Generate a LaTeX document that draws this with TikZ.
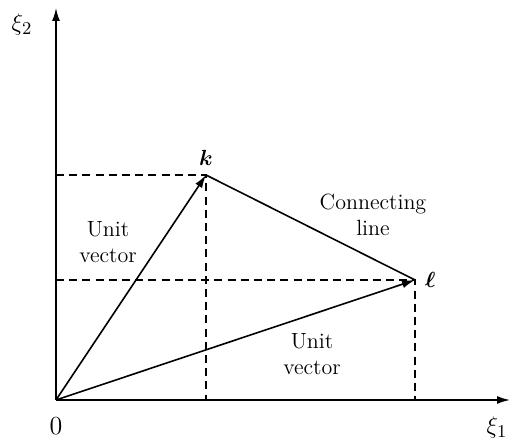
\documentclass[tikz,border=0pt]{standalone}
\usepackage{amsmath,amssymb}
\usetikzlibrary{arrows.meta,positioning,calc}

\begin{document}
\begin{tikzpicture}[x=0.5pt,y=0.5pt,
    axis/.style={-{Latex[length=6.5pt,width=4pt]}, thick},
    unitvec/.style={-{Latex[length=6.5pt,width=4pt]}, thick},
    guide/.style={dashed, dash pattern=on 4pt off 2.6pt, semithick},
    lbl/.style={font=\fontsize{11}{13}\selectfont, align=center},
    axlbl/.style={font=\fontsize{13}{15}\selectfont, inner sep=1pt}]
  \useasboundingbox (-56,-42) rectangle (458,400);

  % Points
  \coordinate (O) at (0,0);
  \coordinate (k) at (150,225);
  \coordinate (l) at (359,120);

  % Axes
  \draw[axis] (O) -- (0,392) coordinate (ytop);
  \draw[axis] (O) -- (454,0) coordinate (xend);
  \node[axlbl] (xi2) at (-34,375) {$\xi_2$};
  \node[axlbl] (xi1) at (441,-28) {$\xi_1$};
  \node[axlbl] (zero) at (0,-26) {0};

  % Projections
  \draw[guide] (O |- k) -- (k) -- (k |- O);
  \draw[guide] (O |- l) -- (l) -- (l |- O);

  % Unit vectors and connecting line
  \draw[unitvec] (O) -- (k);
  \draw[unitvec] (O) -- (l);
  \draw[thick] (k) -- (l);

  % Labels
  \node[lbl, above=1pt of k] (klab) {$\boldsymbol{k}$};
  \node[lbl, right=1.5pt of l] (llab) {$\boldsymbol{\ell}$};
  \node[lbl] (uvk) at (52,158) {Unit\\vector};
  \node[lbl] (conn) at (317,185) {Connecting\\line};
  \node[lbl] (uvl) at (256,46) {Unit\\vector};
\end{tikzpicture}
\end{document}
